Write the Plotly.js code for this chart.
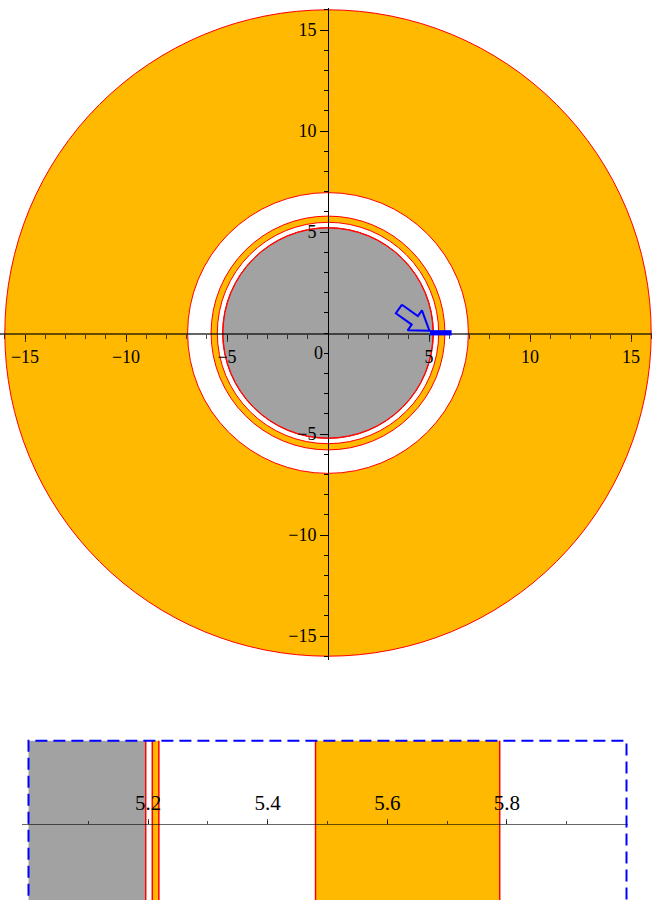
<!DOCTYPE html>
<html><head><meta charset="utf-8">
<script src="https://cdn.plot.ly/plotly-3.0.1.min.js"></script>
<style>html,body{margin:0;padding:0;background:#fff}#chart{width:652px;height:900px}</style>
</head><body><div id="chart"></div>
<script>
// ---- data ----
const ringRadii = [16, 6.95, 5.788, 5.48, 5.218, 5.207, 5.196];       // circle boundaries, outside -> inside
const ringFills = ['orange', 'white', 'orange', 'white', 'orange', 'white', 'gray']; // fill inside each boundary
const mainTickVals = [-15, -10, -5, 5, 10, 15];
const mainTickText = ['\u221215', '\u221210', '\u22125', '5', '10', '15'];
const insetTickVals = [5.2, 5.4, 5.6, 5.8];
const insetTickText = ['5.2', '5.4', '5.6', '5.8'];
const zoomWindow = [5.0, 6.0];        // radial window magnified in the inset
const markerBar = [5.05, 6.12];       // blue bar marking the window on the main plot
const arrowTail = [3.51, 1.19];
const arrowTip = [5.02, 0.11];

// ---- styles ----
const COL = {orange: '#FFB900', white: '#FFFFFF', gray: '#A2A2A2'};
const RED = '#FF0000';
const FONT = 'Liberation Serif';

// ---- main subplot geometry ----
const W = 652, H = 900;
const pxPerUnit = 20.2;
const origin = [328, 333];
const mainTop = 8, mainBot = 660;
const xMain = [-origin[0] / pxPerUnit, (W - origin[0]) / pxPerUnit];
const yMain = [-(mainBot - origin[1]) / pxPerUnit, (origin[1] - mainTop) / pxPerUnit];
const yDomMain = [1 - mainBot / H, 1 - mainTop / H];
const posXaxis = yDomMain[0] + (0 - yMain[0]) / (yMain[1] - yMain[0]) * (yDomMain[1] - yDomMain[0]);
const posYaxis = (0 - xMain[0]) / (xMain[1] - xMain[0]);

// ---- inset geometry ----
const insetPx = 598;      // px per unit
const insetX0px = 28.5;   // pixel of x=5.0
const insL = 21.7, insR = 628;
const xInset = [5 + (insL - insetX0px) / insetPx, 5 + (insR - insetX0px) / insetPx];
const insTop = 735;
const yInset = [-(H - 823.7) / 83, (823.7 - insTop) / 83];
const yDomInset = [0, (H - insTop) / H];
const posX2 = yDomInset[0] + (0 - yInset[0]) / (yInset[1] - yInset[0]) * (yDomInset[1] - yDomInset[0]);

const shapes = [];
// concentric circles on the main plot
ringRadii.forEach((r, i) => {
  shapes.push({type: 'circle', xref: 'x', yref: 'y', x0: -r, x1: r, y0: -r, y1: r,
    fillcolor: COL[ringFills[i]], line: {color: RED, width: 1}, layer: 'below'});
});
// blue bar marking the magnified window
shapes.push({type: 'rect', xref: 'x', yref: 'y', x0: markerBar[0], x1: markerBar[1], y0: -0.12, y1: 0.14,
  fillcolor: '#0000FF', line: {width: 0}, layer: 'above'});

// inset bands: region between ringRadii[i+1] and ringRadii[i] has ringFills[i]
for (let i = 0; i < ringRadii.length; i++) {
  const outer = ringRadii[i];
  const inner = i + 1 < ringRadii.length ? ringRadii[i + 1] : 0;
  const a = Math.max(inner, zoomWindow[0]), b = Math.min(outer, zoomWindow[1]);
  if (b > a && ringFills[i] !== 'white') {
    shapes.push({type: 'rect', xref: 'x2', yref: 'y2', x0: a, x1: b, y0: -1.3, y1: 1,
      fillcolor: COL[ringFills[i]], line: {width: 0}, layer: 'below'});
  }
}
ringRadii.forEach(r => {
  if (r > zoomWindow[0] && r < zoomWindow[1]) {
    shapes.push({type: 'line', xref: 'x2', yref: 'y2', x0: r, x1: r, y0: -1.3, y1: 1,
      line: {color: RED, width: 1.5}, layer: 'below'});
  }
});
// dashed window box
shapes.push({type: 'rect', xref: 'x2', yref: 'y2', x0: zoomWindow[0], x1: zoomWindow[1], y0: -1.3, y1: 1,
  fillcolor: 'rgba(0,0,0,0)', line: {color: '#0000FF', width: 2, dash: '12px,6px'}, layer: 'above'});

// hollow block arrow
const dx = arrowTip[0] - arrowTail[0], dy = arrowTip[1] - arrowTail[1];
const L = Math.hypot(dx, dy), ux = dx / L, uy = dy / L, nx = -uy, ny = ux;
const sw = 0.26, hw = 0.61, hl = 0.89;
const bx = arrowTip[0] - ux * hl, by = arrowTip[1] - uy * hl;
const ax = [arrowTail[0] + nx * sw, bx + nx * sw, bx + nx * hw, arrowTip[0], bx - nx * hw, bx - nx * sw, arrowTail[0] - nx * sw, arrowTail[0] + nx * sw];
const ay = [arrowTail[1] + ny * sw, by + ny * sw, by + ny * hw, arrowTip[1], by - ny * hw, by - ny * sw, arrowTail[1] - ny * sw, arrowTail[1] + ny * sw];

const traces = [
  {type: 'scatter', x: ax, y: ay, mode: 'lines', line: {color: '#0000FF', width: 2}, xaxis: 'x', yaxis: 'y', hoverinfo: 'skip', showlegend: false},
  {type: 'scatter', x: zoomWindow, y: [0, 0], mode: 'markers', marker: {opacity: 0}, xaxis: 'x2', yaxis: 'y2', hoverinfo: 'skip', showlegend: false}
];

const tickFontMain = {family: FONT, size: 18, color: '#000'};
const layout = {
  width: W, height: H, margin: {l: 0, r: 0, t: 0, b: 0},
  font: {family: FONT},
  paper_bgcolor: '#fff', plot_bgcolor: 'rgba(0,0,0,0)', showlegend: false,
  xaxis: {domain: [0, 1], range: xMain, anchor: 'free', position: posXaxis,
    showline: true, linecolor: 'rgba(0,0,0,0.6)', linewidth: 1.5, zeroline: false, showgrid: false,
    ticks: 'outside', ticklen: 7, tickwidth: 1, tickcolor: 'rgba(0,0,0,0.7)',
    tickmode: 'array', tickvals: mainTickVals, ticktext: mainTickText, tickfont: tickFontMain,
    minor: {tickmode: 'linear', tick0: 0, dtick: 1, ticks: 'outside', ticklen: 4, tickwidth: 1, tickcolor: 'rgba(0,0,0,0.7)', showgrid: false},
    fixedrange: true},
  yaxis: {domain: yDomMain, range: yMain, anchor: 'free', position: posYaxis,
    showline: true, linecolor: '#000', linewidth: 1, zeroline: false, showgrid: false,
    ticks: 'outside', ticklen: 8, tickwidth: 1, tickcolor: '#000',
    tickmode: 'array', tickvals: mainTickVals, ticktext: mainTickText, tickfont: tickFontMain,
    minor: {tickmode: 'linear', tick0: 0, dtick: 1, ticks: 'outside', ticklen: 4, tickwidth: 1, tickcolor: '#000', showgrid: false},
    fixedrange: true},
  xaxis2: {domain: [insL / W, insR / W], range: xInset, anchor: 'free', position: posX2, side: 'top',
    showline: true, linecolor: 'rgba(0,0,0,0.6)', linewidth: 1.5, zeroline: false, showgrid: false,
    ticks: 'outside', ticklen: 5, tickwidth: 1, tickcolor: 'rgba(0,0,0,0.7)',
    tickmode: 'array', tickvals: insetTickVals, ticktext: insetTickText, tickfont: {family: FONT, size: 21, color: '#000'},
    minor: {tickmode: 'linear', tick0: 5, dtick: 0.1, ticks: 'outside', ticklen: 3, tickwidth: 1, tickcolor: 'rgba(0,0,0,0.7)', showgrid: false},
    fixedrange: true},
  yaxis2: {domain: yDomInset, range: yInset, anchor: 'x2', visible: false, fixedrange: true},
  shapes: shapes,
  annotations: [{xref: 'x', yref: 'y', x: -0.45, y: -0.99, text: '0', showarrow: false, font: tickFontMain}]
};

Plotly.newPlot('chart', traces, layout, {displayModeBar: false, staticPlot: true});
</script></body></html>
